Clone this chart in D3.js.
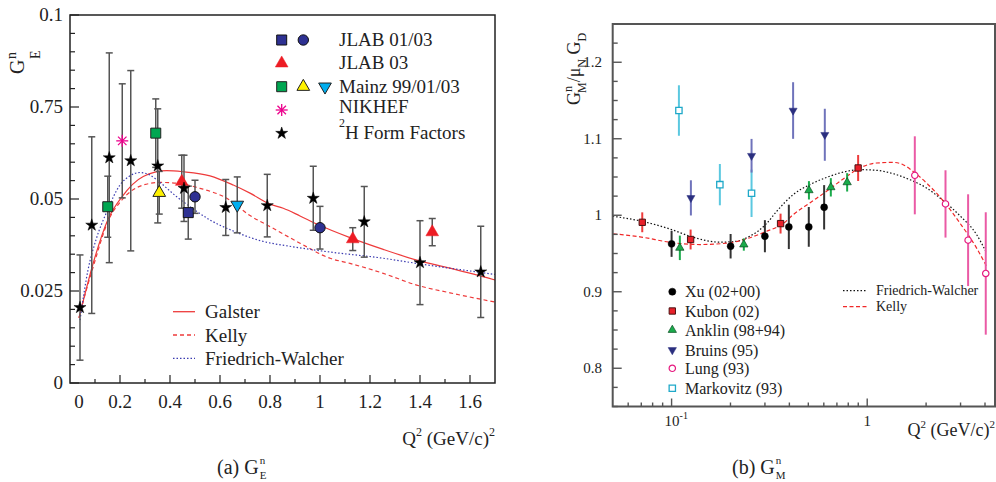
<!DOCTYPE html>
<html><head><meta charset="utf-8">
<script src="https://cdn.jsdelivr.net/npm/d3@7"></script>
<style>
body{margin:0;background:#fff}
svg{display:block}
svg text{font-family:"Liberation Serif","DejaVu Serif","Noto Serif","Times New Roman",Times,serif !important;fill:#222}
</style>
</head><body>
<svg id="c" width="996" height="482" font-family="Liberation Serif, DejaVu Serif, serif"></svg>
<script>
// ================= DATA: panel (a) G_E^n  [Q2, value, error] =================
const jlab0103Squares = [[0.473,0.0463,0.0072]];
const jlab0103Circles = [[0.50,0.0506,0.0045],[1.00,0.0422,0.0058]];
const jlab03Triangles = [[0.447,0.0547,0.0072],[1.131,0.0391,0.0031],[1.449,0.0410,0.0037]];
const mainzSquares = [[0.151,0.0479,0.0083],[0.343,0.0679,0.0093]];
const mainzTriangles = [[0.357,0.0517,0.0058]];
const mainzInvTriangles = [[0.669,0.0484,0.0076]];
const nikhefPoints = [[0.209,0.0658,0.0155]];
const deuteronFF = [[0.040,0.0205,0.0143],[0.087,0.0429,0.0240],[0.157,0.0612,0.0285],[0.243,0.0604,0.0245],
  [0.351,0.0590,0.0155],[0.456,0.0529,0.0090],[0.623,0.0477,0.0076],[0.789,0.0482,0.0085],
  [0.973,0.0502,0.0087],[1.177,0.0438,0.0096],[1.400,0.0327,0.0114],[1.643,0.0302,0.0124]];
// model curves [Q2, G_E^n]
const galsterGE = [[0.036,0.0177],[0.047,0.0207],[0.093,0.0326],[0.151,0.0443],[0.207,0.0505],[0.293,0.0561],
  [0.387,0.0577],[0.453,0.0574],[0.56,0.0563],[0.653,0.0538],[0.72,0.0516],[0.8,0.0486],[0.853,0.0475],
  [0.92,0.0454],[0.987,0.0432],[1.12,0.0395],[1.253,0.0363],[1.387,0.0334],[1.52,0.0312],[1.7,0.0280]];
const kellyGE = [[0.036,0.0177],[0.047,0.0207],[0.093,0.0316],[0.151,0.0438],[0.207,0.0497],[0.293,0.0538],
  [0.36,0.0545],[0.427,0.0543],[0.52,0.0529],[0.627,0.0502],[0.72,0.0455],[0.8,0.0425],[0.92,0.0380],
  [1.04,0.0339],[1.12,0.0325],[1.253,0.0298],[1.387,0.0266],[1.52,0.0245],[1.7,0.0220]];
const fwGE = [[0.04,0.0171],[0.072,0.0307],[0.104,0.0389],[0.147,0.0465],[0.2,0.0538],[0.24,0.0563],[0.28,0.0572],
  [0.32,0.0565],[0.36,0.0545],[0.427,0.0506],[0.493,0.0473],[0.56,0.0443],[0.653,0.0413],[0.76,0.0387],
  [0.893,0.0370],[1.027,0.0357],[1.253,0.0339],[1.387,0.0325],[1.52,0.0312],[1.7,0.0295]];
const geYTicks = [0,0.025,0.05,0.075,0.1];
const geYLabels = ["0","0.025","0.05","0.75","0.1"];
const geXTicks = [0,0.2,0.4,0.6,0.8,1,1.2,1.4,1.6];
const geXLabels = ["0","0.2","0.4","0.6","0.8","1","1.2","1.4","1.6"];

// ================= DATA: panel (b) G_M^n/mu_n G_D  [Q2, value, error] =================
const xuData = [[0.100,0.9626,0.017],[0.2003,0.9595,0.016],[0.2999,0.9726,0.021],[0.3975,0.9848,0.029],[0.5027,0.9848,0.026],[0.6023,1.0104,0.029]];
const kubonData = [[0.0708,0.9908,0.013],[0.1251,0.9683,0.013],[0.3606,0.9891,0.013],[0.8986,1.0618,0.017]];
const anklinData = [[0.1102,0.9574,0.016],[0.234,0.9617,0.008],[0.5036,1.0326,0.012],[0.6516,1.0365,0.012],[0.7897,1.0430,0.012]];
const bruinsData = [[0.1255,1.0227,0.023],[0.2563,1.0778,0.022],[0.418,1.1369,0.037],[0.6071,1.1052,0.034]];
const lungData = [[1.751,1.0522,0.051],[2.513,1.0148,0.044],[3.279,0.9674,0.060],[4.036,0.9239,0.080]];
const markovitzData = [[0.109,1.1369,0.033],[0.1765,1.0400,0.027],[0.2563,1.0287,0.031]];
const fwGM = [[0.05,0.9987],[0.0703,0.9922],[0.1,0.9813],[0.124,0.9726],[0.1765,0.9648],[0.2106,0.9657],[0.2513,0.9726],
  [0.3058,0.9891],[0.3437,1.0048],[0.418,1.0269],[0.5088,1.0400],[0.6194,1.0494],[0.784,1.0574],[0.9166,1.0596],
  [1.116,1.0587],[1.356,1.0544],[1.651,1.0465],[2.009,1.0357],[2.443,1.0191],[2.973,0.9996],[3.618,0.9750],[4.07,0.9510]];
const kellyGM = [[0.0503,0.9757],[0.0689,0.9718],[0.1019,0.9640],[0.1395,0.9617],[0.1986,0.9640],[0.2416,0.9692],
  [0.3058,0.9790],[0.3717,0.9890],[0.418,1.0007],[0.5088,1.0161],[0.6194,1.0313],[0.7535,1.0474],[0.9166,1.0618],
  [1.116,1.0683],[1.356,1.0691],[1.526,1.0661],[1.716,1.0573],[2.009,1.0422],[2.443,1.0191],[2.973,0.9900],[3.618,0.9574],[4.07,0.9335]];
const gmYTicks = [0.8,0.9,1.0,1.1,1.2];
const gmYLabels = ["0.8","0.9","1","1.1","1.2"];
const gmLegend = ["Xu (02+00)","Kubon (02)","Anklin (98+94)","Bruins (95)","Lung (93)","Markovitz (93)"];

// ================= DRAWING =================
const FONT = "Liberation Serif, DejaVu Serif, serif";
const svg = d3.select("#c");

function errBars(g, data, xs, ys, color, cap, width) {
  data.forEach(d => {
    const x = xs(d[0]), y1 = ys(d[1]-d[2]), y2 = ys(d[1]+d[2]);
    g.append("line").attr("x1",x).attr("x2",x).attr("y1",y1).attr("y2",y2)
      .attr("stroke",color).attr("stroke-width",width);
    if (cap) [y1,y2].forEach(yy => g.append("line").attr("x1",x-cap).attr("x2",x+cap)
      .attr("y1",yy).attr("y2",yy).attr("stroke",color).attr("stroke-width",width));
  });
}
function symAt(g, x, y, type, size, fill, stroke, sw, rot) {
  g.append("path").attr("d", d3.symbol().type(type).size(size)())
    .attr("transform", `translate(${x},${y})${rot ? " rotate(180)" : ""}`)
    .attr("fill", fill).attr("stroke", stroke).attr("stroke-width", sw);
}
function marks(g, data, xs, ys, type, size, fill, stroke, sw, rot) {
  data.forEach(d => symAt(g, xs(d[0]), ys(d[1]), type, size, fill, stroke, sw, rot));
}
function asterisk(g, x, y, r, color) {
  for (let k = 0; k < 4; k++) {
    const a = k * Math.PI / 4;
    g.append("line").attr("x1", x - r*Math.cos(a)).attr("y1", y - r*Math.sin(a))
      .attr("x2", x + r*Math.cos(a)).attr("y2", y + r*Math.sin(a))
      .attr("stroke", color).attr("stroke-width", 1.3);
  }
}

// ---------- Panel (a) ----------
const xL = d3.scaleLinear().domain([0,1.7]).range([70,495]);
const yL = d3.scaleLinear().domain([0,0.1]).range([383,15]);
const A = svg.append("g").attr("font-family", FONT);
const lineL = d3.line().x(d=>xL(d[0])).y(d=>yL(d[1])).curve(d3.curveMonotoneX);
A.append("path").datum(galsterGE).attr("d",lineL).attr("fill","none").attr("stroke","#ee3b3b").attr("stroke-width",1.2);
A.append("path").datum(kellyGE).attr("d",lineL).attr("fill","none").attr("stroke","#ee3b3b").attr("stroke-width",1.2).attr("stroke-dasharray","4,3");
A.append("path").datum(fwGE).attr("d",lineL).attr("fill","none").attr("stroke","#3b3bb0").attr("stroke-width",1.2).attr("stroke-dasharray","1.5,2");

const EB = "#555";
[deuteronFF, jlab0103Squares, jlab0103Circles, jlab03Triangles, mainzSquares, mainzTriangles, mainzInvTriangles, nikhefPoints]
  .forEach(s => errBars(A, s, xL, yL, EB, 3.5, 1.5));

marks(A, mainzSquares, xL, yL, d3.symbolSquare, 100, "#00a651", "#222", 1);
marks(A, mainzTriangles, xL, yL, d3.symbolTriangle, 70, "#fff200", "#222", 1);
marks(A, mainzInvTriangles, xL, yL, d3.symbolTriangle, 70, "#00aeef", "#222", 1, true);
marks(A, jlab03Triangles, xL, yL, d3.symbolTriangle, 70, "#ed1c24", "#ed1c24", 0.5);
marks(A, jlab0103Squares, xL, yL, d3.symbolSquare, 100, "#2e3192", "#111", 1);
marks(A, jlab0103Circles, xL, yL, d3.symbolCircle, 85, "#2e3192", "#111", 1);
nikhefPoints.forEach(d => asterisk(A, xL(d[0]), yL(d[1]), 6, "#ec008c"));
marks(A, deuteronFF, xL, yL, d3.symbolStar, 45, "#000", "#000", 0.5);

// frame & ticks
A.append("rect").attr("x",70).attr("y",15).attr("width",425).attr("height",368)
  .attr("fill","none").attr("stroke","#222").attr("stroke-width",1.5);
d3.range(0, 21).forEach(i => {
  const v = i * 0.005, len = i % 5 === 0 ? 9 : 5;
  A.append("line").attr("x1",70).attr("x2",70+len).attr("y1",yL(v)).attr("y2",yL(v)).attr("stroke","#222").attr("stroke-width",1.2);
});
d3.range(1, 17).forEach(i => {
  const v = i * 0.1, len = i % 2 === 0 ? 8 : 4;
  A.append("line").attr("x1",xL(v)).attr("x2",xL(v)).attr("y1",383).attr("y2",383-len).attr("stroke","#222").attr("stroke-width",1.2);
});
geYTicks.forEach((v,i) => A.append("text").attr("x",63).attr("y",yL(v)+6).attr("text-anchor","end")
  .attr("font-size",19).text(geYLabels[i]));
geXTicks.forEach((v,i) => A.append("text").attr("x",xL(v) + (v===0 ? 9 : 0)).attr("y",408).attr("text-anchor","middle")
  .attr("font-size",19).text(geXLabels[i]));

// axis titles
const xtA = A.append("text").attr("x",495).attr("y",445).attr("text-anchor","end").attr("font-size",19);
xtA.append("tspan").text("Q");
xtA.append("tspan").attr("font-size",12).attr("dy",-9).text("2");
xtA.append("tspan").attr("dy",9).text(" (GeV/c)");
xtA.append("tspan").attr("font-size",12).attr("dy",-9).text("2");
const ytA = A.append("g").attr("transform","translate(24,74) rotate(-90)");
ytA.append("text").attr("x",0).attr("y",0).attr("font-size",20).text("G");
ytA.append("text").attr("x",15).attr("y",-8).attr("font-size",14).text("n");
ytA.append("text").attr("x",15).attr("y",16).attr("font-size",14).text("E");

// legend (markers)
const lgA = A.append("g");
const lgRows = [40, 63.3, 86.7, 110, 133.3];
symAt(lgA, 281.7, lgRows[0], d3.symbolSquare, 100, "#2e3192", "#111", 1);
symAt(lgA, 303.3, lgRows[0], d3.symbolCircle, 85, "#2e3192", "#111", 1);
symAt(lgA, 281.7, lgRows[1], d3.symbolTriangle, 70, "#ed1c24", "#ed1c24", 0.5);
symAt(lgA, 281.7, lgRows[2], d3.symbolSquare, 100, "#00a651", "#222", 1);
symAt(lgA, 303.3, lgRows[2], d3.symbolTriangle, 70, "#fff200", "#222", 1);
symAt(lgA, 325, lgRows[2], d3.symbolTriangle, 70, "#00aeef", "#222", 1, true);
asterisk(lgA, 281.7, lgRows[3], 6, "#ec008c");
symAt(lgA, 281.7, lgRows[4], d3.symbolStar, 45, "#000", "#000", 0.5);
const lgText = [["JLAB 01/03",46],["JLAB 03",69.3],["Mainz 99/01/03",92.7],["NIKHEF",113.3]];
lgText.forEach(t => lgA.append("text").attr("x",339).attr("y",t[1]).attr("font-size",19).text(t[0]));
const ff = lgA.append("text").attr("x",339).attr("y",139.3).attr("font-size",19);
ff.append("tspan").attr("font-size",12).attr("dy",-12).text("2");
ff.append("tspan").attr("dy",12).text("H Form Factors");

// legend (curves)
const curveLg = [["Galster",311.7,null,"#ee3b3b"],["Kelly",335,"4,3","#ee3b3b"],["Friedrich-Walcher",358.3,"1.5,2","#3b3bb0"]];
curveLg.forEach(c => {
  lgA.append("line").attr("x1",173).attr("x2",195).attr("y1",c[1]).attr("y2",c[1])
    .attr("stroke",c[3]).attr("stroke-width",1.3).attr("stroke-dasharray",c[2]);
  lgA.append("text").attr("x",205).attr("y",c[1]+6.5).attr("font-size",19).text(c[0]);
});

// captions (stacked super/subscripts as separate texts)
function caption(x, label, sub) {
  const g = svg.append("g").attr("font-family", FONT);
  const t = g.append("text").attr("x", x).attr("y", 474).attr("font-size", 20).text(label);
  const w = t.node().getComputedTextLength();
  g.append("text").attr("x", x + w + 1).attr("y", 464).attr("font-size", 11).text("n");
  g.append("text").attr("x", x + w + 1).attr("y", 479).attr("font-size", 11).text(sub);
}
caption(217, "(a) G", "E");
caption(732, "(b) G", "M");

// ---------- Panel (b) ----------
const xR = d3.scaleLog().domain([0.05,4.5]).range([612.7,995]);
const yR = d3.scaleLinear().domain([0.75,1.25]).range([406.5,24]);
const B = svg.append("g").attr("font-family", FONT);
const lineR = d3.line().x(d=>xR(d[0])).y(d=>yR(d[1])).curve(d3.curveMonotoneX);
B.append("path").datum(fwGM).attr("d",lineR).attr("fill","none").attr("stroke","#111").attr("stroke-width",1.2).attr("stroke-dasharray","1.5,2");
B.append("path").datum(kellyGM).attr("d",lineR).attr("fill","none").attr("stroke","#f02828").attr("stroke-width",1.2).attr("stroke-dasharray","4,2.5");

errBars(B, markovitzData, xR, yR, "#5bc8e0", 0, 2);
errBars(B, bruinsData, xR, yR, "#6f73bb", 0, 2);
errBars(B, xuData, xR, yR, "#333", 0, 2);
errBars(B, kubonData, xR, yR, "#ee3b3b", 0, 2);
errBars(B, anklinData, xR, yR, "#1aab4b", 0, 2);
errBars(B, lungData, xR, yR, "#ea5aa5", 0, 2);

marks(B, markovitzData, xR, yR, d3.symbolSquare, 40, "#fff", "#1fa9c9", 1.3);
marks(B, bruinsData, xR, yR, d3.symbolTriangle, 28, "#2b2f7f", "#2b2f7f", 0.5, true);
marks(B, xuData, xR, yR, d3.symbolCircle, 38, "#000", "#000", 0.5);
marks(B, kubonData, xR, yR, d3.symbolSquare, 40, "#e8202a", "#4a1010", 1);
marks(B, anklinData, xR, yR, d3.symbolTriangle, 30, "#1aab4b", "#0b4d22", 0.7);
marks(B, lungData, xR, yR, d3.symbolCircle, 32, "#fff", "#e6197f", 1.2);

// frame & ticks
B.append("rect").attr("x",612.7).attr("y",24).attr("width",382.3).attr("height",382.5)
  .attr("fill","none").attr("stroke","#555").attr("stroke-width",2);
d3.range(0, 21).forEach(i => {
  const v = 0.75 + i * 0.025, len = (i % 4 === 2) ? 9 : 5;
  B.append("line").attr("x1",612.7).attr("x2",612.7+len).attr("y1",yR(v)).attr("y2",yR(v)).attr("stroke","#555").attr("stroke-width",1.4);
});
const logTicks = [0.06,0.07,0.08,0.09,0.1,0.2,0.3,0.4,0.5,0.6,0.7,0.8,0.9,1,2,3,4];
logTicks.forEach(v => {
  const major = (v === 0.1 || v === 1), len = major ? 8 : 4;
  B.append("line").attr("x1",xR(v)).attr("x2",xR(v)).attr("y1",406.5).attr("y2",406.5-len).attr("stroke","#555").attr("stroke-width",1.4);
});
gmYTicks.forEach((v,i) => B.append("text").attr("x",602).attr("y",yR(v)+5).attr("text-anchor","end")
  .attr("font-size",15).text(gmYLabels[i]));
const t01 = B.append("text").attr("x",xR(0.1)-7).attr("y",426).attr("font-size",15);
t01.append("tspan").text("10");
t01.append("tspan").attr("font-size",10).attr("dy",-7).text("-1");
B.append("text").attr("x",xR(1)).attr("y",426).attr("text-anchor","middle").attr("font-size",15).text("1");

const xtB = B.append("text").attr("x",995).attr("y",436).attr("text-anchor","end").attr("font-size",18);
xtB.append("tspan").text("Q");
xtB.append("tspan").attr("font-size",11).attr("dy",-8).text("2");
xtB.append("tspan").attr("dy",8).text(" (GeV/c)");
xtB.append("tspan").attr("font-size",11).attr("dy",-8).text("2");

const ytB = B.append("text").attr("transform","translate(580,105) rotate(-90)").attr("font-size",18);
ytB.append("tspan").text("G");
ytB.append("tspan").attr("font-size",12).attr("dy",-8).text("n");
ytB.append("tspan").attr("font-size",12).attr("dx",-7).attr("dy",14).text("M");
ytB.append("tspan").attr("dy",-6).text("/μ");
ytB.append("tspan").attr("font-size",12).attr("dy",6).text("N");
ytB.append("tspan").attr("dy",-6).text(" G");
ytB.append("tspan").attr("font-size",12).attr("dy",6).text("D");

// legend (b)
const lgB = B.append("g");
const lgBRows = [291.7, 311, 330, 350, 368.3, 388.3];
symAt(lgB, 672.3, lgBRows[0], d3.symbolCircle, 40, "#000", "#000", 0.5);
symAt(lgB, 672.3, lgBRows[1], d3.symbolSquare, 40, "#e8202a", "#4a1010", 1);
symAt(lgB, 672.3, lgBRows[2], d3.symbolTriangle, 30, "#1aab4b", "#0b4d22", 0.7);
symAt(lgB, 672.3, lgBRows[3], d3.symbolTriangle, 30, "#2b2f7f", "#2b2f7f", 0.5, true);
symAt(lgB, 672.3, lgBRows[4], d3.symbolCircle, 32, "#fff", "#e6197f", 1.2);
symAt(lgB, 672.3, lgBRows[5], d3.symbolSquare, 40, "#fff", "#1fa9c9", 1.3);
gmLegend.forEach((t,i) => lgB.append("text").attr("x",685).attr("y",lgBRows[i]+5.5).attr("font-size",16).text(t));
[["Friedrich-Walcher",290.7,"1.5,2","#111"],["Kelly",306.7,"4,2.5","#f02828"]].forEach(c => {
  lgB.append("line").attr("x1",843).attr("x2",867).attr("y1",c[1]).attr("y2",c[1])
    .attr("stroke",c[3]).attr("stroke-width",1.2).attr("stroke-dasharray",c[2]);
  lgB.append("text").attr("x",876).attr("y",c[1]+4.5).attr("font-size",14).text(c[0]);
});
</script>
</body></html>
